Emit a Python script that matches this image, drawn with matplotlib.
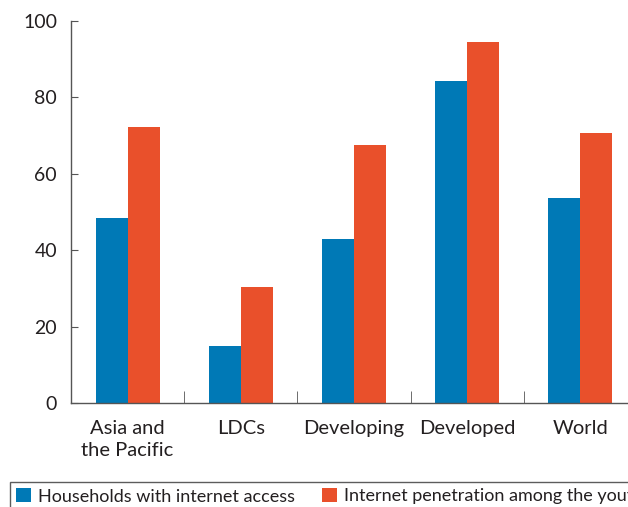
import matplotlib.pyplot as plt
import numpy as np

plt.rcParams['font.family'] = ['Lato', 'DejaVu Sans']

# data
regions = ['Asia and\nthe Pacific', 'LDCs', 'Developing', 'Developed', 'World']
households = [48.4, 14.9, 42.9, 84.3, 53.7]
youth = [72.3, 30.4, 67.5, 94.5, 70.7]
y_ticks = [0, 20, 40, 60, 80, 100]

blue = '#0079b6'
orange = '#e9502b'
axis_grey = '#555555'
text_col = '#231f20'

fig = plt.figure(figsize=(6.28, 5.07), dpi=100)
ax = fig.add_axes([71 / 628, 1 - 403 / 507, 1 - 71 / 628, (403 - 21) / 507])

x = np.arange(len(regions))
w = 0.283
ax.bar(x - w / 2, households, width=w, color=blue, label='Households with internet access')
ax.bar(x + w / 2, youth, width=w, color=orange, label='Internet penetration among the youth')

ax.set_xlim(-0.5, 4.42)
ax.set_ylim(0, 100)

for s in ['top', 'right']:
    ax.spines[s].set_visible(False)
for s in ['left', 'bottom']:
    ax.spines[s].set_color(axis_grey)
    ax.spines[s].set_linewidth(1.0)

ax.set_yticks(y_ticks)
ax.set_yticklabels([str(v) for v in y_ticks], fontsize=14, color=text_col)
ax.tick_params(axis='y', direction='in', length=5, color=axis_grey, pad=10)

# category labels at centers, boundary ticks between groups
ax.set_xticks(x)
ax.set_xticklabels(regions, fontsize=14.5, color=text_col, linespacing=1.4)
ax.tick_params(axis='x', which='major', length=0, pad=12)
ax.set_xticks(x[:-1] + 0.5, minor=True)
ax.tick_params(axis='x', which='minor', direction='in', length=9, color=axis_grey)

leg = fig.legend(loc='upper left', bbox_to_anchor=(10 / 628, 1 - 482 / 507),
                 ncol=2, fontsize=13, frameon=True, fancybox=False,
                 handlelength=0.8, handleheight=0.8, handletextpad=0.4,
                 columnspacing=1.5, borderpad=0.35, borderaxespad=0)
leg.get_frame().set_edgecolor('#333333')
leg.get_frame().set_linewidth(1.0)
for t in leg.get_texts():
    t.set_color(text_col)

fig.savefig('out.png', dpi=100)
